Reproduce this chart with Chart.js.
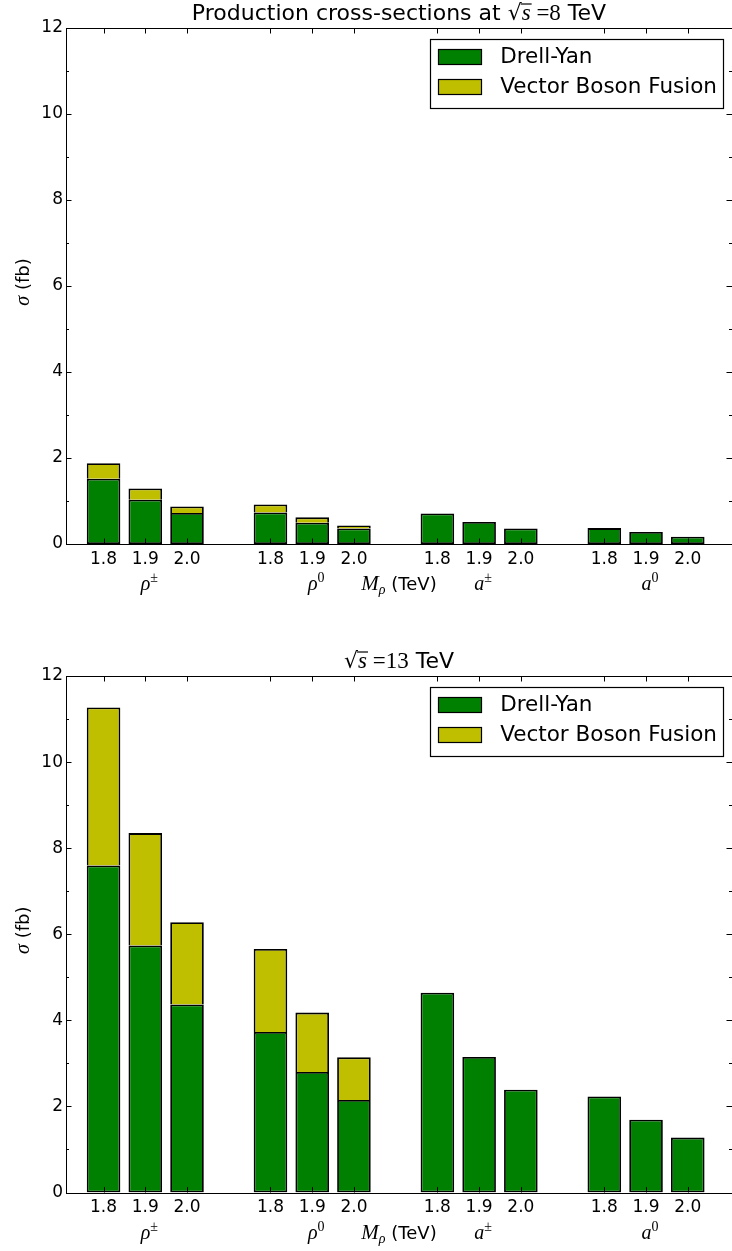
<!DOCTYPE html>
<html>
<head>
<meta charset="utf-8">
<script src="https://cdn.jsdelivr.net/npm/chart.js@4.4.1/dist/chart.umd.min.js"></script>
<style>
  html, body { margin: 0; padding: 0; background: #fff; }
  #wrap { position: relative; width: 732px; height: 1251px; overflow: hidden; }
  canvas { position: absolute; left: 0; }
  #chart8 { top: 0; }
  #chart13 { top: 625px; }
</style>
</head>
<body>
<div id="wrap">
  <canvas id="chart8" width="732" height="625"></canvas>
  <canvas id="chart13" width="732" height="626"></canvas>
</div>
<script>
// resonance groups, each one drawn for three masses
const resonance = ['ρ', 'ρ', 'a', 'a'];
const charge = ['±', '0', '±', '0'];
const masses = ['1.8', '1.9', '2.0'];

// cross-sections in fb, sqrt(s) = 8 TeV
const drellYan8 = [1.52, 1.03, 0.72, 0.735, 0.495, 0.36, 0.71, 0.51, 0.36, 0.37, 0.28, 0.17];
const vbf8 = [0.36, 0.26, 0.155, 0.185, 0.125, 0.07, 0, 0, 0, 0, 0, 0];

// cross-sections in fb, sqrt(s) = 13 TeV
const drellYan13 = [7.60, 5.74, 4.37, 3.73, 2.80, 2.15, 4.64, 3.15, 2.39, 2.23, 1.69, 1.275];
const vbf13 = [3.67, 2.61, 1.91, 1.93, 1.38, 0.99, 0, 0, 0, 0, 0, 0];

const yTicks = [0, 2, 4, 6, 8, 10, 12];

const SANS = 'DejaVu Sans';
const SERIF = 'Liberation Serif';
const GREEN = '#008000';
const OLIVE = '#bfbf00';

// bar slot on the x axis: one empty slot between groups
function slot(i) {
  return Math.floor(i / masses.length) * (masses.length + 1) + (i % masses.length);
}

// draw a row of text pieces with mixed fonts; piece.bar draws a root overline
function drawRuns(ctx, runs, x, y, align) {
  let total = 0;
  runs.forEach(r => { ctx.font = r.font; r.w = ctx.measureText(r.t).width; total += r.w; });
  let cx = align === 'center' ? x - total / 2 : x;
  runs.forEach(r => {
    ctx.font = r.font;
    ctx.fillText(r.t, cx, y + (r.dy || 0));
    if (r.bar) {
      ctx.beginPath();
      ctx.lineWidth = 1.2;
      ctx.moveTo(cx - 1, y - r.bar);
      ctx.lineTo(cx + r.w + 1, y - r.bar);
      ctx.stroke();
    }
    cx += r.w;
  });
}

function line(ctx, x1, y1, x2, y2) {
  ctx.beginPath();
  ctx.moveTo(x1, y1);
  ctx.lineTo(x2, y2);
  ctx.stroke();
}

const decorations = {
  id: 'decorations',
  afterDraw(chart) {
    const { ctx, chartArea: a, scales: { x, y } } = chart;
    const o = chart.options.plugins.decorations;
    ctx.save();
    ctx.strokeStyle = '#000';
    ctx.fillStyle = '#000';
    ctx.lineWidth = 1;

    // frame
    ctx.strokeRect(Math.round(a.left) + 0.5, Math.round(a.top) + 0.5,
      Math.round(a.right - a.left), Math.round(a.bottom - a.top));

    // inward ticks on all four sides
    for (let v = yTicks[0]; v <= yTicks[yTicks.length - 1]; v++) {
      const len = yTicks.includes(v) ? 5.5 : 3;
      const py = Math.round(y.getPixelForValue(v)) + 0.5;
      line(ctx, a.left, py, a.left + len, py);
      line(ctx, a.right, py, a.right - len, py);
    }
    x.ticks.forEach(t => {
      const px = Math.round(x.getPixelForValue(t.value)) + 0.5;
      line(ctx, px, a.bottom, px, a.bottom - 5.5);
      line(ctx, px, a.top, px, a.top + 5.5);
    });

    const cx = (a.left + a.right) / 2;
    ctx.textBaseline = 'alphabetic';

    // title
    drawRuns(ctx, o.title, cx, a.top - 8, 'center');

    // resonance names under the middle bar of each group
    resonance.forEach((r, g) => {
      const px = x.getPixelForValue(slot(g * masses.length + 1)) + 4;
      drawRuns(ctx, [
        { t: r, font: 'italic 20px ' + SERIF },
        { t: charge[g], font: '14px ' + SERIF, dy: -8 }
      ], px, a.bottom + 46, 'center');
    });

    // x axis title
    drawRuns(ctx, [
      { t: 'M', font: 'italic 21px ' + SERIF },
      { t: 'ρ', font: 'italic 14px ' + SERIF, dy: 4 },
      { t: ' (TeV)', font: '18px ' + SANS }
    ], cx, a.bottom + 46, 'center');

    // y axis title
    ctx.save();
    ctx.translate(29, (a.top + a.bottom) / 2 - 4);
    ctx.rotate(-Math.PI / 2);
    drawRuns(ctx, [
      { t: 'σ', font: 'italic 20px ' + SERIF },
      { t: ' (fb)', font: '18px ' + SANS }
    ], 0, 0, 'center');
    ctx.restore();

    // legend box in the upper right corner
    const ds = chart.data.datasets;
    const legendFont = '21.5px ' + SANS;
    ctx.font = legendFont;
    const textW = Math.max(...ds.map(d => ctx.measureText(d.label).width));
    const patchW = 43, patchH = 15, padL = 8, gap = 19, padR = 6, rowH = 30.3;
    const boxW = padL + patchW + gap + textW + padR;
    const boxH = 69;
    const right = a.right - 9;
    const left = right - boxW;
    const top = a.top + 11;
    ctx.fillStyle = '#fff';
    ctx.fillRect(left, top, boxW, boxH);
    ctx.strokeRect(Math.round(left) + 0.5, Math.round(top) + 0.5, Math.round(boxW), boxH);
    ds.forEach((d, i) => {
      const rowY = top + 17.5 + i * rowH;
      ctx.fillStyle = d.backgroundColor;
      ctx.fillRect(left + padL, rowY - patchH / 2, patchW, patchH);
      ctx.strokeRect(Math.round(left + padL) + 0.5, Math.round(rowY - patchH / 2) + 0.5, patchW, patchH);
      ctx.fillStyle = '#000';
      ctx.font = legendFont;
      ctx.textBaseline = 'middle';
      ctx.fillText(d.label, left + padL + patchW + gap, rowY + 1);
    });
    ctx.restore();
  }
};

function makeChart(id, drellYan, vbf, title, padTop, xHeight) {
  const ctx = document.getElementById(id).getContext('2d');
  const bar = {
    borderColor: '#000',
    borderWidth: 1.8,
    inflateAmount: 0,
    categoryPercentage: 1,
    barPercentage: 0.805
  };
  return new Chart(ctx, {
    type: 'bar',
    data: {
      datasets: [
        Object.assign({
          label: 'Drell-Yan',
          data: drellYan.map((v, i) => ({ x: slot(i), y: v })),
          backgroundColor: GREEN,
          borderSkipped: false
        }, bar),
        Object.assign({
          label: 'Vector Boson Fusion',
          data: vbf.map((v, i) => ({ x: slot(i), y: v })),
          backgroundColor: OLIVE,
          // the green bar's top edge already separates the two parts
          borderSkipped: 'bottom'
        }, bar)
      ]
    },
    options: {
      responsive: false,
      devicePixelRatio: 1,
      animation: false,
      layout: { padding: { top: padTop, left: 0, right: -2, bottom: 0 } },
      plugins: {
        legend: { display: false },
        tooltip: { enabled: false },
        decorations: { title: title }
      },
      scales: {
        x: {
          type: 'linear',
          stacked: true,
          offset: false,
          min: -0.9,
          max: 15.06,
          grid: { display: false, drawTicks: false, offset: false },
          border: { display: false },
          afterBuildTicks: s => {
            s.ticks = drellYan.map((v, i) => ({ value: slot(i) }));
          },
          afterFit: s => { s.height = xHeight; },
          ticks: {
            autoSkip: false,
            maxRotation: 0,
            padding: 5,
            color: '#000',
            font: { family: SANS, size: 17 },
            callback: v => masses[v % (masses.length + 1)]
          }
        },
        y: {
          stacked: true,
          min: 0,
          max: 12,
          grid: { display: false, drawTicks: false },
          border: { display: false },
          afterFit: s => { s.width = 66; },
          ticks: {
            stepSize: 2,
            padding: 3,
            color: '#000',
            font: { family: SANS, size: 17 }
          }
        }
      }
    },
    plugins: [decorations]
  });
}

const rootBar = 16;
makeChart('chart8', drellYan8, vbf8, [
  { t: 'Production cross-sections at ', font: '22px ' + SANS },
  { t: '√', font: '22px ' + SANS },
  { t: 's', font: 'italic 23px ' + SERIF, bar: rootBar },
  { t: ' =8', font: '23px ' + SERIF },
  { t: ' TeV', font: '22px ' + SANS }
], 28, 81);

makeChart('chart13', drellYan13, vbf13, [
  { t: '√', font: '22px ' + SANS },
  { t: 's', font: 'italic 23px ' + SERIF, bar: rootBar },
  { t: ' =13', font: '23px ' + SERIF },
  { t: ' TeV', font: '22px ' + SANS }
], 51, 58.5);
</script>
</body>
</html>
